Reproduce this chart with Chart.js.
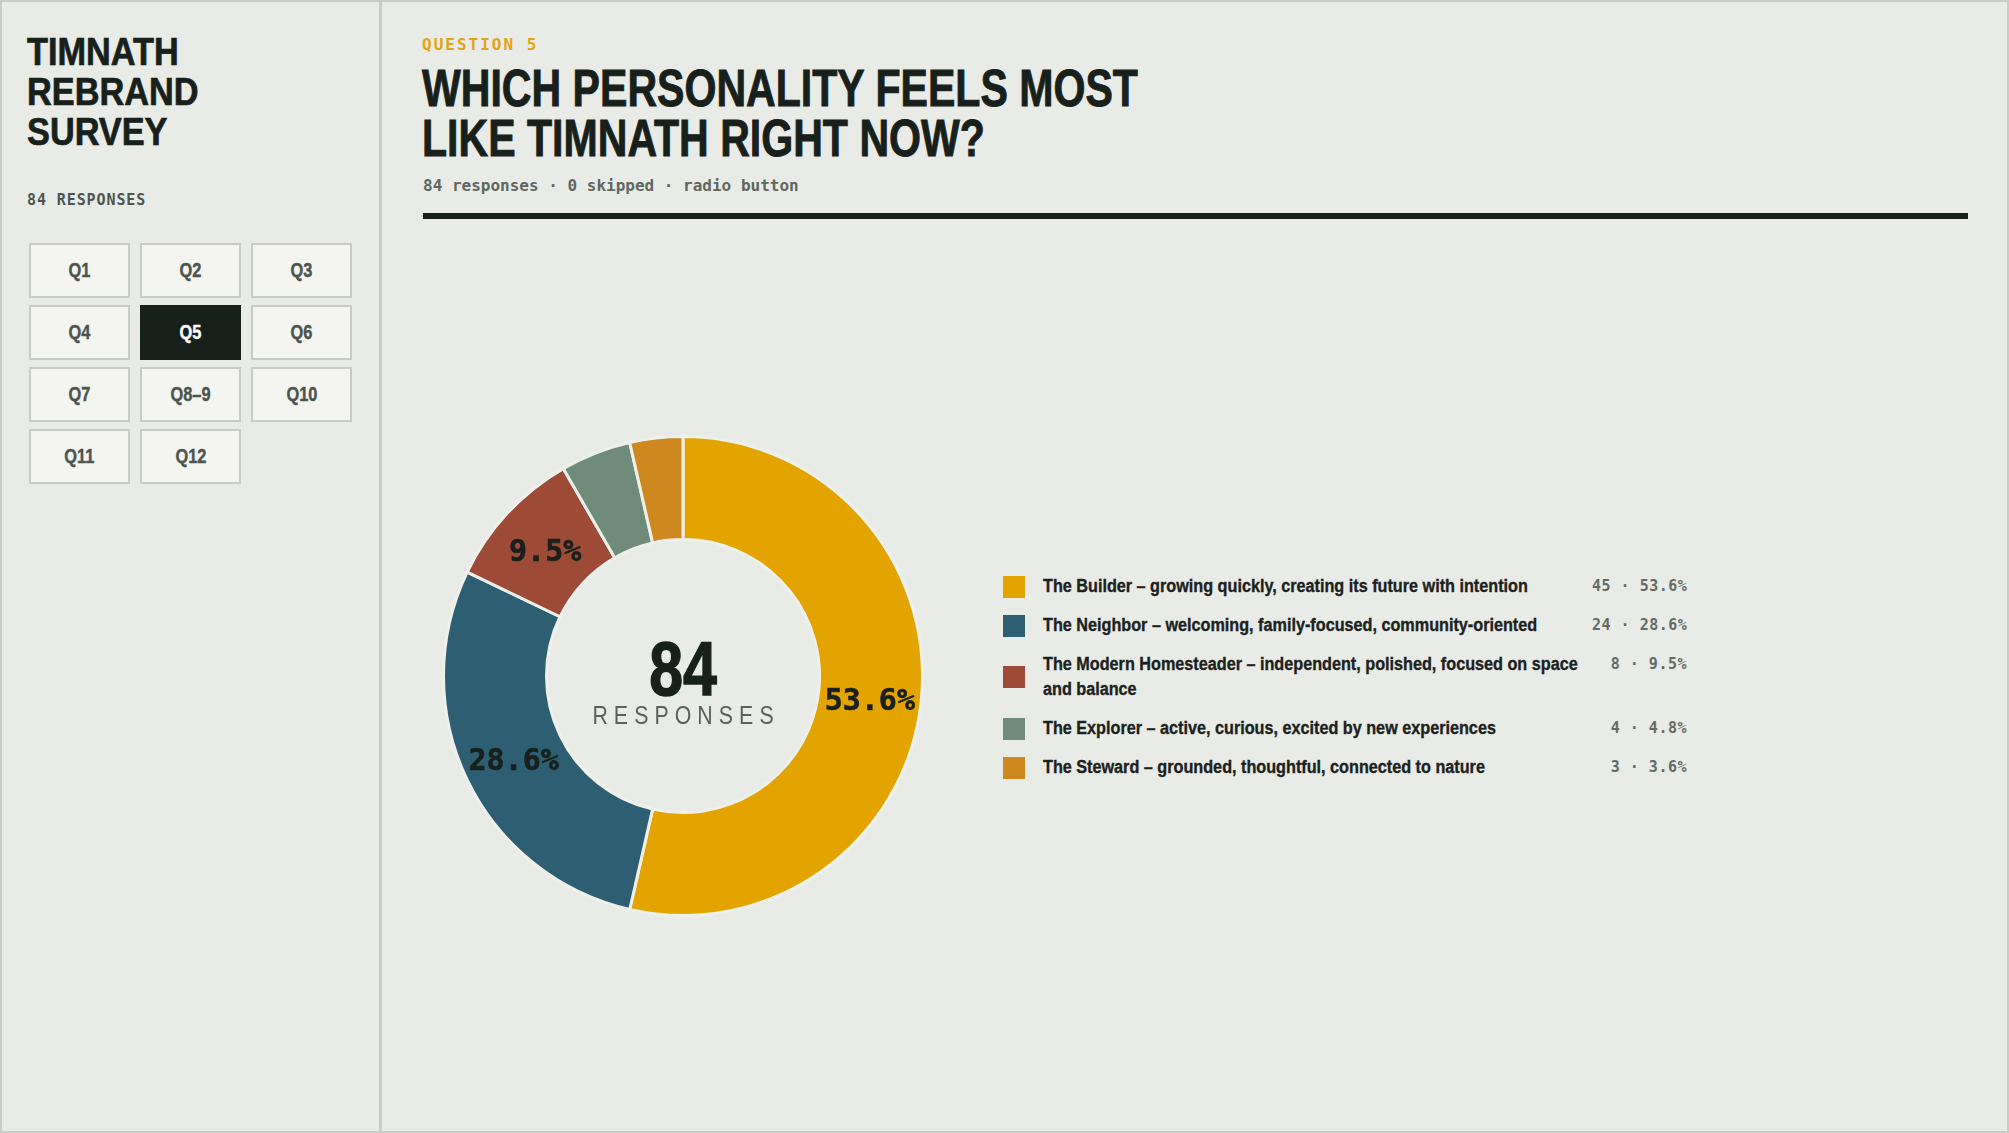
<!DOCTYPE html>
<html>
<head>
<meta charset="utf-8">
<title>Timnath Rebrand Survey - Question 5</title>
<script src="https://cdn.jsdelivr.net/npm/chart.js@4.4.1/dist/chart.umd.min.js"></script>
<style>
  html, body { margin: 0; padding: 0; }
  body {
    width: 2009px; height: 1133px; overflow: hidden; position: relative;
    background: #e9ebe6; color: #18201b;
    font-family: 'Liberation Sans', Arial, sans-serif;
  }
  .mono { font-family: 'DejaVu Sans Mono', 'Liberation Mono', monospace; }
  .frame { position: absolute; left: 0; top: 0; width: 2005px; height: 1129px; border: 2px solid #c9cdc6; }
  .side { position: absolute; left: 0; top: 0; width: 379px; height: 1133px; border-right: 3px solid #c9cdc6; }
  /* no narrow face installed, so the bold grotesque is squeezed and thickened */
  .side h1 {
    position: absolute; left: 27px; top: 32px; margin: 0;
    font-size: 39px; line-height: 40px; font-weight: bold;
    -webkit-text-stroke: 0.7px #18201b;
    transform: scaleX(0.88); transform-origin: left top;
  }
  .side .count {
    position: absolute; left: 27px; top: 193px;
    font-size: 15px; line-height: 15px; font-weight: bold; letter-spacing: 0.9px; color: #4d5550;
  }
  .grid {
    position: absolute; left: 29px; top: 243px;
    display: grid; grid-template-columns: 101px 101px 101px; grid-auto-rows: 55px;
    column-gap: 10px; row-gap: 7px;
  }
  .grid div {
    box-sizing: border-box; border: 2px solid #c9ccc6; background: #f4f5f1;
    display: flex; align-items: center; justify-content: center;
    font-size: 20px; font-weight: bold; color: #4b544e;
  }
  .grid div span { display: inline-block; transform: scaleX(0.82); -webkit-text-stroke: 0.4px #4b544e; }
  .grid div.on { background: #17201b; border-color: #17201b; color: #ffffff; }
  .grid div.on span { -webkit-text-stroke: 0.4px #ffffff; }
  .qnum {
    position: absolute; left: 422px; top: 37px;
    font-size: 16px; line-height: 16px; font-weight: bold; letter-spacing: 2px; color: #e2a414;
  }
  .title {
    position: absolute; left: 422px; margin: 0; white-space: nowrap;
    font-size: 52px; line-height: 50px; font-weight: bold;
    -webkit-text-stroke: 0.9px #18201b;
    transform: scaleX(0.79); transform-origin: left top;
  }
  .meta {
    position: absolute; left: 423px; top: 178px;
    font-size: 16px; line-height: 16px; font-weight: bold; color: #5f6761;
  }
  .rule { position: absolute; left: 423px; top: 213px; width: 1545px; height: 6px; background: #18201b; }
  #chartBox { position: absolute; left: 442px; top: 435px; width: 482px; height: 482px; }
  #legend { position: absolute; left: 1003px; top: 574px; }
  .item {
    display: grid; grid-template-columns: 22px 543px 95px; column-gap: 18px;
    margin-bottom: 14px;
  }
  .item .sw { width: 22px; height: 22px; align-self: center; }
  .item .lab { font-size: 18px; line-height: 25px; font-weight: bold; color: #1b221d; }
  .item .lab span {
    display: block; width: 603px; -webkit-text-stroke: 0.35px #1b221d;
    transform: scaleX(0.9); transform-origin: left top;
  }
  .item .val {
    white-space: nowrap; text-align: right; font-size: 15px; line-height: 25px;
    transform: translateX(-12px);
    font-weight: bold; letter-spacing: 0.5px; color: #646b66;
  }
</style>
</head>
<body>
<div class="frame"></div>
<div class="side">
  <h1>TIMNATH<br>REBRAND<br>SURVEY</h1>
  <div class="count mono">84 RESPONSES</div>
  <div class="grid" id="qgrid"></div>
</div>

<div class="qnum mono">QUESTION 5</div>
<h2 class="title" style="top:63px">WHICH PERSONALITY FEELS MOST</h2>
<h2 class="title" style="top:113px">LIKE TIMNATH RIGHT NOW?</h2>
<div class="meta mono">84 responses · 0 skipped · radio button</div>
<div class="rule"></div>

<div id="chartBox"><canvas id="myChart"></canvas></div>
<div id="legend"></div>

<script>
// survey answers for question 5
const personalities = [
  'The Builder – growing quickly, creating its future with intention',
  'The Neighbor – welcoming, family-focused, community-oriented',
  'The Modern Homesteader – independent, polished, focused on space and balance',
  'The Explorer – active, curious, excited by new experiences',
  'The Steward – grounded, thoughtful, connected to nature'
];
const responses = [45, 24, 8, 4, 3];
const colors = ['#e3a400', '#2d5e72', '#9d4a36', '#6f8b79', '#cd8920'];
const questions = ['Q1', 'Q2', 'Q3', 'Q4', 'Q5', 'Q6', 'Q7', 'Q8–9', 'Q10', 'Q11', 'Q12'];
const currentQuestion = 'Q5';

const total = responses.reduce((a, b) => a + b, 0);
const pct = v => (v / total * 100).toFixed(1) + '%';

// sidebar buttons
const qgrid = document.getElementById('qgrid');
questions.forEach(q => {
    const d = document.createElement('div');
    d.innerHTML = '<span>' + q + '</span>';
    if (q === currentQuestion) d.className = 'on';
    qgrid.appendChild(d);
});

// legend rows
const legend = document.getElementById('legend');
personalities.forEach((name, i) => {
    const row = document.createElement('div');
    row.className = 'item';
    row.innerHTML = '<div class="sw" style="background:' + colors[i] + '"></div>' +
        '<div class="lab"><span>' + name + '</span></div>' +
        '<div class="val mono">' + responses[i] + ' · ' + pct(responses[i]) + '</div>';
    legend.appendChild(row);
});

// squeezed, letter-spaced text centred on x
function squeezedText(ctx, text, x, y, sx, spacing, stroke) {
    ctx.save();
    ctx.translate(x, y);
    ctx.scale(sx, 1);
    let w = 0;
    for (const ch of text) w += ctx.measureText(ch).width;
    w += spacing * (text.length - 1);
    let cx = -w / 2;
    ctx.textAlign = 'left';
    for (const ch of text) {
        ctx.fillText(ch, cx, 0);
        if (stroke) ctx.strokeText(ch, cx, 0);
        cx += ctx.measureText(ch).width + spacing;
    }
    ctx.restore();
}

const centerText = {
    id: 'centerText',
    afterDraw(chart) {
        const ctx = chart.ctx;
        const arc = chart.getDatasetMeta(0).data[0];
        ctx.save();
        ctx.textBaseline = 'alphabetic';
        ctx.fillStyle = '#18201b';
        ctx.strokeStyle = '#18201b';
        ctx.lineWidth = 1.5;
        ctx.font = 'bold 76px "Liberation Sans", Arial, sans-serif';
        squeezedText(ctx, String(total), arc.x, arc.y + 19, 0.8, 0, true);
        ctx.fillStyle = '#59615b';
        ctx.font = '26px "Liberation Sans", Arial, sans-serif';
        squeezedText(ctx, 'RESPONSES', arc.x, arc.y + 48, 0.82, 7.4, false);
        ctx.restore();
    }
};

const arcLabels = {
    id: 'arcLabels',
    afterDatasetsDraw(chart) {
        const ctx = chart.ctx;
        ctx.save();
        ctx.fillStyle = '#18201b';
        ctx.strokeStyle = '#18201b';
        ctx.lineWidth = 0.6;
        ctx.font = 'bold 30px "DejaVu Sans Mono", monospace';
        ctx.textAlign = 'center';
        ctx.textBaseline = 'middle';
        chart.getDatasetMeta(0).data.forEach((arc, i) => {
            const v = responses[i];
            if (v / total < 0.05) return;
            const p = arc.getCenterPoint();
            ctx.fillText(pct(v), p.x, p.y + 5);
            ctx.strokeText(pct(v), p.x, p.y + 5);
        });
        ctx.restore();
    }
};

const ctx = document.getElementById('myChart').getContext('2d');
const myChart = new Chart(ctx, {
    type: 'doughnut',
    data: {
        labels: personalities,
        datasets: [{
            data: responses,
            backgroundColor: colors,
            borderColor: '#eef0eb',
            borderWidth: 3
        }]
    },
    options: {
        responsive: true,
        maintainAspectRatio: false,
        animation: false,
        events: [],
        cutout: '57%',
        layout: { padding: 0 },
        plugins: {
            legend: { display: false },
            tooltip: { enabled: false }
        }
    },
    plugins: [arcLabels, centerText]
});
</script>
</body>
</html>
